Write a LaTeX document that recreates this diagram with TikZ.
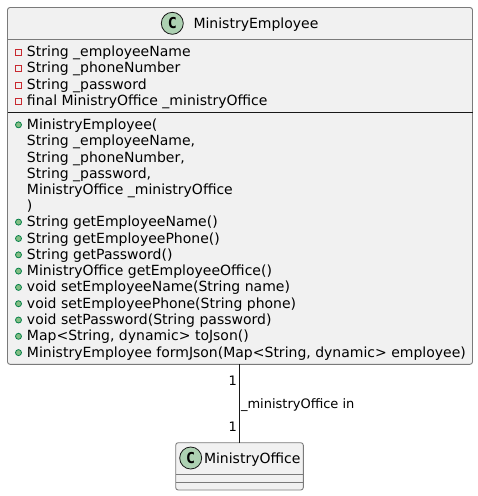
\documentclass[tikz,border=0pt]{standalone}
\usepackage{fontspec}
\setmainfont{DejaVu Sans}
\newfontfamily\cmono{DejaVu Sans Mono}
\definecolor{boxfill}{HTML}{F1F1F1}
\definecolor{boxline}{HTML}{7A7A7A}
\definecolor{privred}{HTML}{C82930}
\definecolor{pubgreen}{HTML}{84BE84}
\definecolor{publine}{HTML}{038048}
\definecolor{badge}{HTML}{ADD1B2}
\definecolor{ink}{HTML}{181818}
\tikzset{
  classbox/.style={draw=boxline,fill=boxfill,line width=0.9pt,rounded corners=2.5pt,inner sep=0pt,outer sep=0pt,anchor=north west},
  divider/.style={draw=boxline,line width=0.9pt},
  blackdiv/.style={draw=ink,line width=0.9pt},
  member/.style={anchor=base west,inner sep=0pt,outer sep=0pt,text=black,font=\fontsize{14}{16}\selectfont},
  edgelabel/.style={inner sep=0pt,outer sep=0pt,text=black,font=\fontsize{13}{15}\selectfont},
  privmark/.style={draw=privred,line width=0.8pt,fill=none,minimum size=6pt,inner sep=0pt},
  pubmark/.style={circle,draw=publine,line width=0.8pt,fill=pubgreen,minimum size=6pt,inner sep=0pt},
  cbadge/.style={circle,draw=ink,line width=0.8pt,fill=badge,minimum size=22pt,inner sep=0pt,font=\cmono\bfseries\fontsize{15}{15}\selectfont},
  connector/.style={draw=ink,line width=0.9pt}
}
\begin{document}
\begin{tikzpicture}[x=1pt,y=-1pt]
\useasboundingbox (0,0) rectangle (478,496);
\fill[white] (0,0) rectangle (478,496);
\node[classbox,minimum width=465pt,minimum height=356.8pt] (main) at (7.5,7.5) {};
\node[classbox,minimum width=127.6pt,minimum height=47.3pt] (office) at (175.7,442.7) {};
\draw[connector] (main.south -| office.north) -- (office.north);
\draw[divider] (main.west |- 0,39) -- (main.east |- 0,39);
\draw[blackdiv] (main.west |- 0,112) -- (main.east |- 0,112);
\draw[divider] (office.west |- 0,474.7) -- (office.east |- 0,474.7);
\draw[divider] (office.west |- 0,482.7) -- (office.east |- 0,482.7);
\node[cbadge] (cmain) at (172.3,23.3) {C};
\node[member] (tmain) at (193.5,28.5) {MinistryEmployee};
\node[cbadge] (coffice) at (190.7,458) {C};
\node[member] (toffice) at (204,463) {MinistryOffice};
\foreach \n/\y/\t in {a/56/String \_employeeName,b/72.4/String \_phoneNumber,c/89/String \_password,d/105.2/final MinistryOffice \_ministryOffice}{
  \node[member] (t\n) at (27,\y) {\t};
  \node[privmark] (m\n) at (18.5,\y-3.8) {};
}
\foreach \n/\y/\t in {e/129.3/MinistryEmployee(,k/226.6/String getEmployeeName(),l/243/String getEmployeePhone(),m/259.3/String getPassword(),n/275.6/MinistryOffice getEmployeeOffice(),o/291.9/void setEmployeeName(String name),p/308.2/void setEmployeePhone(String phone),q/324.5/void setPassword(String password),r/340.8/{Map<String, dynamic> toJson()},s/357.1/{MinistryEmployee formJson(Map<String, dynamic> employee)}}{
  \node[member] (t\n) at (27,\y) {\t};
  \node[pubmark] (m\n) at (18.5,\y-4.5) {};
}
\foreach \n/\y/\t in {f/145.5/{String \_employeeName,},g/162/{String \_phoneNumber,},h/178/{String \_password,},i/194.3/MinistryOffice \_ministryOffice,j/210.5/)}{
  \node[member] (t\n) at (27,\y) {\t};
}
\node[edgelabel,anchor=base east] (one) at (237,385) {1};
\node[edgelabel,anchor=base east] (two) at (237,431) {1};
\node[edgelabel,anchor=base west] (lab) at (241,408) {\_ministryOffice in};
\end{tikzpicture}
\end{document}
